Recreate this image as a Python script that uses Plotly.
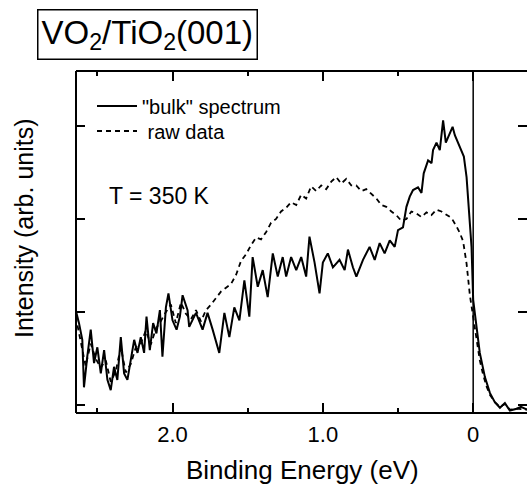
import plotly.graph_objects as go

# Binding energy (eV) and intensity (arb. units)
bulk_E = [2.644, 2.622, 2.600, 2.589, 2.567, 2.544, 2.522, 2.500, 2.477, 2.455,
          2.433, 2.411, 2.389, 2.367, 2.344, 2.322, 2.300, 2.277, 2.255, 2.233,
          2.211, 2.189, 2.173, 2.151, 2.129, 2.107, 2.084, 2.067, 2.044, 2.027,
          2.000, 1.973, 1.951, 1.933, 1.900, 1.889, 1.844, 1.800, 1.767, 1.733,
          1.689, 1.655, 1.622, 1.589, 1.555, 1.522, 1.489, 1.467, 1.433, 1.400,
          1.367, 1.333, 1.300, 1.267, 1.244, 1.211, 1.177, 1.144, 1.111, 1.089,
          1.055, 1.022, 1.000, 0.967, 0.933, 0.889, 0.855, 0.833, 0.800, 0.777,
          0.733, 0.689, 0.655, 0.622, 0.589, 0.555, 0.522, 0.500, 0.467, 0.444,
          0.422, 0.400, 0.367, 0.344, 0.329, 0.300, 0.277, 0.267, 0.244, 0.222,
          0.200, 0.182, 0.155, 0.137, 0.122, 0.100, 0.077, 0.062, 0.044, 0.027,
          0.011, 0.000, -0.022, -0.044, -0.078, -0.111, -0.144, -0.178, -0.211, -0.244,
          -0.289, -0.318, -0.358]
bulk_I = [1.02, 0.88, 0.70, 0.19, 0.52, 0.81, 0.45, 0.62, 0.34, 0.59,
          0.27, 0.16, 0.41, 0.27, 0.73, 0.34, 0.27, 0.48, 0.70, 0.56,
          0.73, 0.56, 0.95, 0.59, 0.88, 0.77, 1.02, 0.52, 1.05, 1.20,
          0.91, 0.81, 0.95, 1.18, 1.02, 0.84, 0.99, 0.81, 0.99, 0.81,
          0.56, 0.99, 0.73, 1.05, 0.91, 1.34, 0.95, 1.59, 1.27, 1.45,
          1.16, 1.63, 1.38, 1.59, 1.38, 1.59, 1.45, 1.59, 1.38, 1.81,
          1.53, 1.20, 1.53, 1.63, 1.48, 1.56, 1.45, 1.67, 1.48, 1.38,
          1.56, 1.70, 1.56, 1.74, 1.63, 1.77, 1.70, 1.88, 1.91, 2.13,
          2.24, 2.31, 2.34, 2.28, 2.49, 2.63, 2.60, 2.74, 2.82, 2.74,
          3.06, 2.82, 2.92, 2.99, 2.90, 2.82, 2.74, 2.67, 2.45, 2.10,
          1.70, 1.13, 0.81, 0.56, 0.30, 0.13, 0.03, -0.03, 0.02, -0.06,
          -0.04, -0.02, -0.05]

raw_E = [2.644, 2.611, 2.578, 2.544, 2.511, 2.478, 2.444, 2.411, 2.378, 2.344,
         2.311, 2.278, 2.244, 2.211, 2.178, 2.144, 2.111, 2.078, 2.044, 2.011,
         1.978, 1.944, 1.911, 1.878, 1.844, 1.811, 1.777, 1.744, 1.711, 1.677,
         1.644, 1.611, 1.577, 1.544, 1.511, 1.477, 1.444, 1.411, 1.377, 1.344,
         1.311, 1.278, 1.244, 1.211, 1.177, 1.144, 1.111, 1.078, 1.044, 1.011,
         0.978, 0.944, 0.911, 0.878, 0.844, 0.811, 0.778, 0.744, 0.711, 0.678,
         0.644, 0.611, 0.578, 0.544, 0.511, 0.478, 0.444, 0.411, 0.378, 0.344,
         0.311, 0.278, 0.244, 0.211, 0.178, 0.144, 0.111, 0.089, 0.067, 0.044,
         0.022, 0.000, -0.022, -0.044, -0.067, -0.089, -0.111, -0.144, -0.178, -0.211,
         -0.244, -0.289, -0.358]
raw_I = [0.95, 0.70, 0.42, 0.66, 0.50, 0.40, 0.48, 0.25, 0.36, 0.62,
         0.35, 0.44, 0.62, 0.66, 0.80, 0.65, 0.82, 0.90, 1.00, 1.08,
         0.88, 1.10, 0.98, 0.92, 1.02, 0.90, 1.02, 1.08, 1.15, 1.22,
         1.26, 1.30, 1.40, 1.55, 1.62, 1.72, 1.80, 1.78, 1.86, 1.96,
         2.00, 2.08, 2.12, 2.18, 2.15, 2.26, 2.22, 2.35, 2.30, 2.36,
         2.32, 2.40, 2.45, 2.38, 2.43, 2.36, 2.36, 2.30, 2.32, 2.27,
         2.22, 2.15, 2.13, 2.08, 2.04, 1.98, 2.00, 2.08, 2.06, 2.02,
         2.07, 2.04, 2.10, 2.08, 2.05, 2.01, 1.92, 1.85, 1.76, 1.52,
         1.18, 0.95, 0.68, 0.48, 0.32, 0.20, 0.11, 0.03, -0.02, 0.01,
         -0.05, -0.04, -0.05]

x_tickvals = [2.0, 1.0, 0.0]
x_ticktext = ["2.0", "1.0", "0"]
y_tickvals = [0, 1, 2, 3]

FONT = "Liberation Sans, Arial, Helvetica, sans-serif"
W, H = 527, 496
L, R, T, B = 76, 0, 71, 83
PW, PH = W - L - R, H - T - B


def px(xp):
    return (xp - L) / PW


def py(yp):
    return (H - B - yp) / PH


fig = go.Figure()
fig.add_trace(go.Scatter(x=raw_E, y=raw_I, mode="lines", name=" raw data", legend="legend2",
                         line=dict(color="black", width=1.8, dash="5px,4px")))
fig.add_trace(go.Scatter(x=bulk_E, y=bulk_I, mode="lines", name="\"bulk\" spectrum",
                         legend="legend",
                         line=dict(color="black", width=2)))

leg_common = dict(xanchor="left", yanchor="middle", bgcolor="rgba(0,0,0,0)",
                  font=dict(size=20), itemwidth=40, borderwidth=0)

fig.update_layout(
    width=W, height=H,
    margin=dict(l=L, r=R, t=T, b=B),
    paper_bgcolor="white", plot_bgcolor="white",
    font=dict(family=FONT, color="black"),
    showlegend=True,
    legend=dict(x=px(92), y=py(106), **leg_common),
    legend2=dict(x=px(92), y=py(131), **leg_common),
    xaxis=dict(range=[2.642, -0.358], tickvals=x_tickvals, ticktext=x_ticktext,
               ticks="inside", ticklen=10, tickwidth=1.5, tickcolor="black",
               mirror="ticks", showline=False, showgrid=False, zeroline=False,
               tickfont=dict(size=22), ticklabelstandoff=6,
               minor=dict(dtick=0.5, tick0=0, ticks="inside", ticklen=5,
                          tickwidth=1.5, tickcolor="black", showgrid=False)),
    yaxis=dict(range=[-0.086, 3.59], tickvals=y_tickvals, showticklabels=False,
               ticks="inside", ticklen=9, tickwidth=1.5, tickcolor="black",
               mirror="ticks", showline=False, showgrid=False, zeroline=False),
)

# frame (left, top, bottom) and vertical line at E = 0
fig.add_shape(type="line", xref="paper", yref="paper", x0=0, x1=0, y0=0, y1=1,
              line=dict(color="black", width=2))
fig.add_shape(type="line", xref="paper", yref="paper", x0=0, x1=1, y0=1, y1=1,
              line=dict(color="black", width=2))
fig.add_shape(type="line", xref="paper", yref="paper", x0=0, x1=1, y0=0, y1=0,
              line=dict(color="black", width=2))
fig.add_shape(type="line", xref="x", yref="paper", x0=0, x1=0, y0=0, y1=1,
              line=dict(color="black", width=1.5))

fig.add_annotation(text="Binding Energy (eV)", xref="paper", yref="paper",
                   x=px(302), y=py(470), xanchor="center", yanchor="middle",
                   showarrow=False, font=dict(size=26))
fig.add_annotation(text="Intensity (arb. units)", xref="paper", yref="paper",
                   x=px(24), y=py(228), xanchor="center", yanchor="middle",
                   textangle=-90, showarrow=False, font=dict(size=25))
fig.add_annotation(text="T = 350 K", xref="paper", yref="paper",
                   x=px(107), y=py(196), xanchor="left", yanchor="middle",
                   showarrow=False, font=dict(size=23))
fig.add_annotation(text="VO<sub>2</sub>/TiO<sub>2</sub>(001)", xref="paper", yref="paper",
                   x=px(37), y=py(9), xanchor="left", yanchor="top",
                   showarrow=False, font=dict(size=33),
                   bordercolor="black", borderwidth=1.5, borderpad=3, bgcolor="white")

fig.write_html("out.html", config={"displayModeBar": False},
               post_script="document.body.style.margin='0';document.body.style.overflow='hidden';")
